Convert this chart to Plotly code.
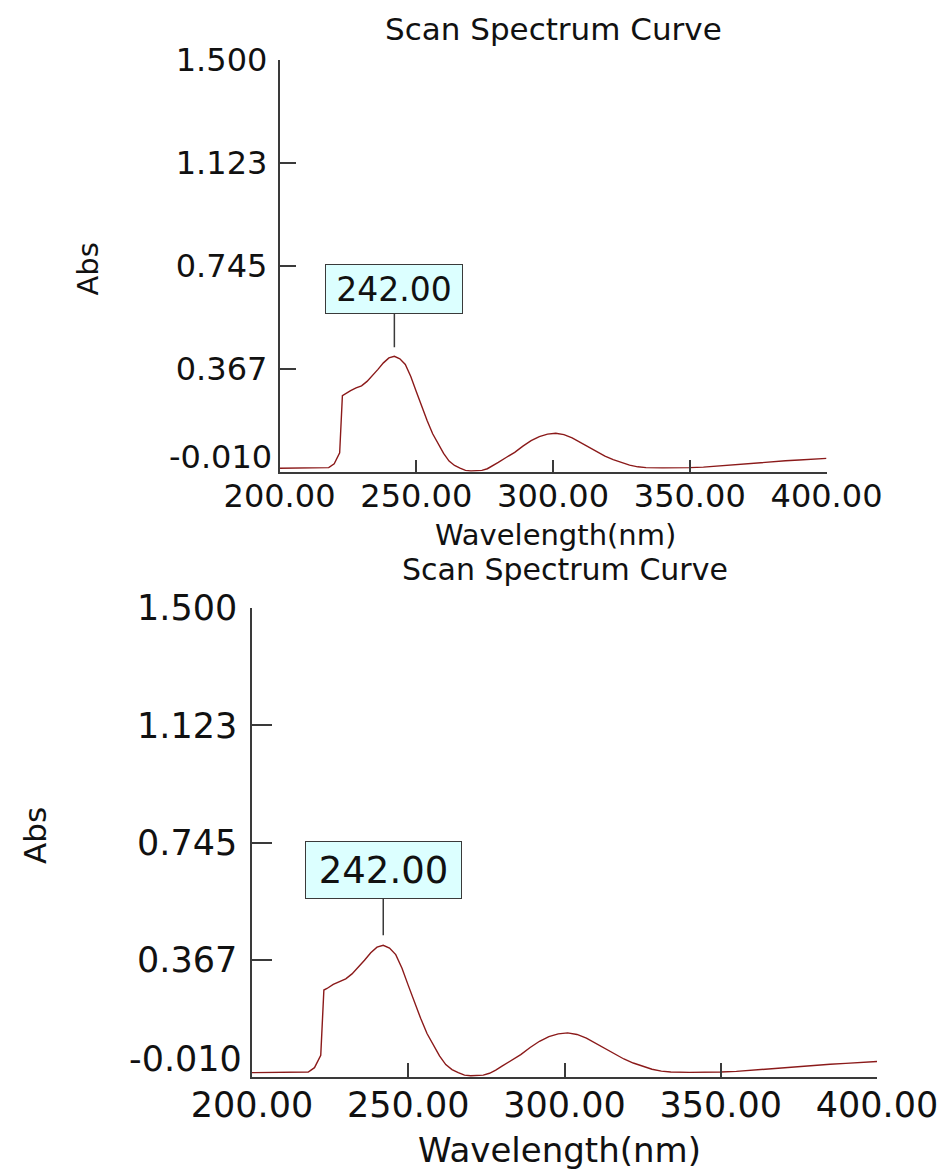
import plotly.graph_objects as go

# ---- data ----
wavelength = [200, 205, 210, 215, 218, 220, 222, 223, 224, 226, 228, 230, 232, 234, 236, 238,
              240, 242, 244, 246, 248, 250, 252, 254, 256, 258, 260, 262, 264, 266, 268, 270,
              272, 274, 276, 278, 280, 283, 286, 289, 292, 295, 298, 301, 304, 307, 310, 313,
              316, 319, 322, 325, 328, 331, 334, 340, 345, 350, 355, 360, 365, 370, 375, 380,
              385, 390, 395, 400]
absorbance = [0.004, 0.004, 0.004, 0.004, 0.006, 0.020, 0.060, 0.270, 0.275, 0.288, 0.298, 0.306,
              0.322, 0.343, 0.366, 0.390, 0.408, 0.414, 0.405, 0.384, 0.340, 0.285, 0.228, 0.178,
              0.130, 0.093, 0.058, 0.030, 0.014, 0.004, -0.004, -0.006, -0.006, -0.004, 0.002,
              0.012, 0.025, 0.044, 0.062, 0.085, 0.105, 0.120, 0.129, 0.132, 0.127, 0.115, 0.098,
              0.080, 0.064, 0.048, 0.035, 0.024, 0.015, 0.009, 0.006, 0.005, 0.005, 0.006, 0.008,
              0.012, 0.017, 0.021, 0.025, 0.028, 0.031, 0.034, 0.037, 0.040]

x_tickvals = [200, 250, 300, 350, 400]
x_ticktext = ["200.00", "250.00", "300.00", "350.00", "400.00"]
y_tickvals = [-0.010, 0.3675, 0.745, 1.1225, 1.500]
y_ticktext = ["-0.010", "0.367", "0.745", "1.123", "1.500"]
x_range = [200, 400]
y_range = [-0.010, 1.500]

chart_title = "Scan Spectrum Curve"
x_title = "Wavelength(nm)"
y_title = "Abs"

W, H = 950, 1171
FONT = "DejaVu Sans"
AXC = "#3a3a3a"
LINEC = "#8b1a1a"

peak_i = max(range(len(absorbance)), key=lambda i: absorbance[i])
peak_x = wavelength[peak_i]
peak_y = absorbance[peak_i]

# panel geometry (pixels)
panels = [
    dict(x0=279.5, x1=826.5, y0=60, y1=472, tick=32, ttl=31, xttl=29, yttl=29, ann=33,
         ylen=17, xlen=12, title_y=29, xt=(555.5, 535), yt=(87.5, 269), box=(136, 48),
         ay=-67, so=9, ylab_gap=4, xlab_gap=-5, low_shift=15, ax=""),
    dict(x0=252, x1=877, y0=608, y1=1077, tick=35, ttl=30, xttl=34, yttl=31, ann=37,
         ylen=20, xlen=14, title_y=569, xt=(559, 1150), yt=(35, 836), box=(155, 56),
         ay=-75, so=10, ylab_gap=6, xlab_gap=-4, low_shift=18, ax="2"),
]

fig = go.Figure()
annotations = []
for p in panels:
    sfx = p["ax"]
    fig.add_trace(go.Scatter(x=wavelength, y=absorbance, mode="lines",
                             line=dict(color=LINEC, width=1.4),
                             xaxis="x" + sfx, yaxis="y" + sfx, showlegend=False,
                             hoverinfo="skip"))
    xdom = [p["x0"] / W, p["x1"] / W]
    ydom = [1 - p["y1"] / H, 1 - p["y0"] / H]
    fig.layout["xaxis" + sfx] = dict(
        domain=xdom, range=x_range, anchor="y" + sfx, showgrid=False, zeroline=False,
        automargin=False,
        showline=True, linecolor=AXC, linewidth=1.5, ticks="inside", ticklen=p["xlen"],
        tickwidth=1.5, tickcolor=AXC, tickvals=x_tickvals, ticktext=x_ticktext,
        tickfont=dict(family=FONT, size=p["tick"], color="#111"),
        ticklabelstandoff=p["xlab_gap"], fixedrange=True)
    fig.layout["yaxis" + sfx] = dict(
        domain=ydom, range=y_range, anchor="x" + sfx, showgrid=False, zeroline=False,
        automargin=False,
        showline=True, linecolor=AXC, linewidth=1.5, ticks="inside", ticklen=p["ylen"],
        tickwidth=1.5, tickcolor=AXC, tickvals=y_tickvals,
        ticktext=[""] + y_ticktext[1:],
        tickfont=dict(family=FONT, size=p["tick"], color="#111"),
        ticklabelstandoff=p["ylab_gap"], fixedrange=True)
    # lowest y label, lifted above the x axis
    annotations.append(dict(text=y_ticktext[0], xref="x" + sfx + " domain", x=0,
                            xanchor="right", xshift=-(p["ylab_gap"] + 2),
                            yref="y" + sfx, y=y_tickvals[0], yanchor="middle",
                            yshift=p["low_shift"], showarrow=False,
                            font=dict(family=FONT, size=p["tick"], color="#111")))
    # chart title
    annotations.append(dict(text=chart_title, xref="paper", x=(p["x0"] + p["x1"]) / 2 / W,
                            yref="paper", y=1 - p["title_y"] / H, xanchor="center",
                            yanchor="middle", showarrow=False,
                            font=dict(family=FONT, size=p["ttl"], color="#111")))
    # axis titles
    annotations.append(dict(text=x_title, xref="paper", x=p["xt"][0] / W, yref="paper",
                            y=1 - p["xt"][1] / H, xanchor="center", yanchor="middle",
                            showarrow=False,
                            font=dict(family=FONT, size=p["xttl"], color="#111")))
    annotations.append(dict(text=y_title, xref="paper", x=p["yt"][0] / W, yref="paper",
                            y=1 - p["yt"][1] / H, xanchor="center", yanchor="middle",
                            textangle=-90, showarrow=False,
                            font=dict(family=FONT, size=p["yttl"], color="#111")))
    # peak label
    annotations.append(dict(text=f"{peak_x:.2f}", xref="x" + sfx, yref="y" + sfx,
                            x=peak_x, y=peak_y, showarrow=True, arrowhead=0,
                            arrowwidth=1.5, arrowcolor=AXC, ax=0, ay=p["ay"],
                            standoff=p["so"], bgcolor="#dcffff", bordercolor=AXC,
                            borderwidth=1, borderpad=0, width=p["box"][0],
                            height=p["box"][1],
                            font=dict(family=FONT, size=p["ann"], color="#111")))

fig.update_layout(width=W, height=H, autosize=False, template="none",
                  margin=dict(l=0, r=0, t=0, b=0, pad=0),
                  paper_bgcolor="white", plot_bgcolor="white",
                  annotations=annotations)

fig.write_html("out.html")
